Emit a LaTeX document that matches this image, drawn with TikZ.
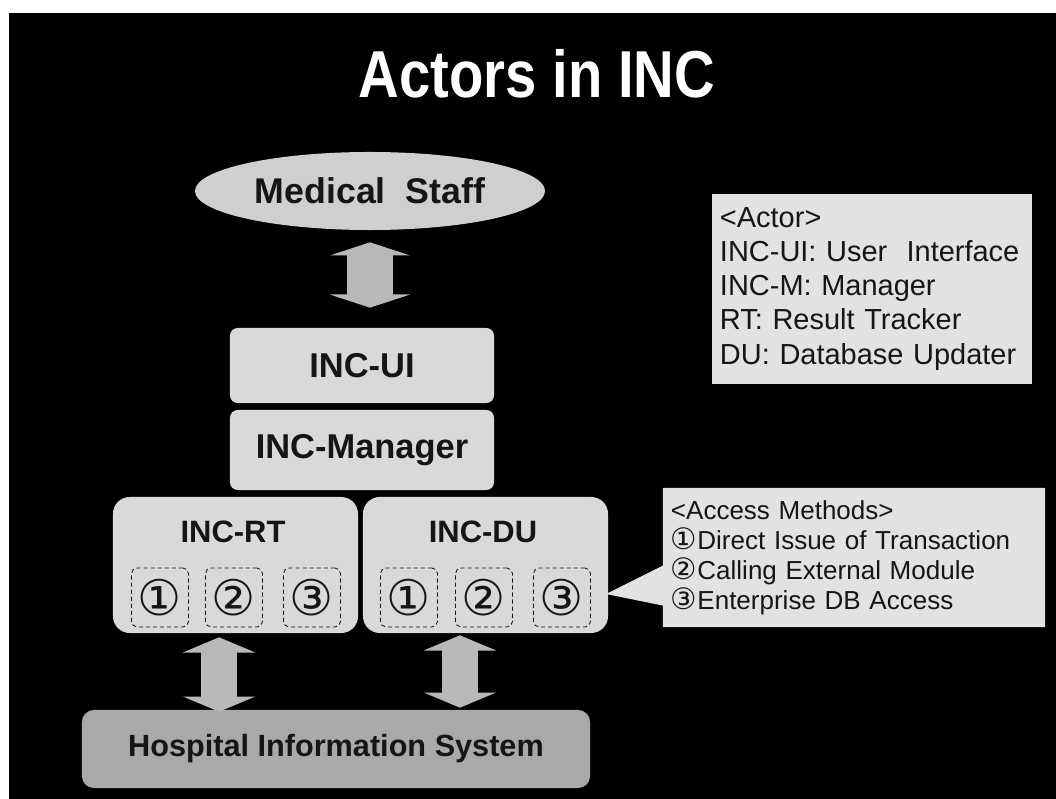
\documentclass[tikz,border=0pt]{standalone}
\usepackage{fontspec}
\usepackage{graphicx}
\setmainfont{Liberation Sans}
\newfontfamily\circfont{DejaVu Sans}
\usetikzlibrary{arrows.meta,positioning,shapes.geometric,shapes.callouts}
\definecolor{slide}{HTML}{000000}
\definecolor{panel}{HTML}{D9D9D9}
\definecolor{oval}{HTML}{CFCFCF}
\definecolor{legend}{HTML}{E2E2E2}
\definecolor{base}{HTML}{A9A9A9}
\definecolor{arrowgray}{HTML}{B8B8B8}
\definecolor{ink}{HTML}{151515}
\newcommand{\circno}[1]{{\circfont\fontsize{21}{21}\selectfont #1}}
\tikzset{
  layer/.style={fill=panel, rounded corners=5.5pt, minimum width=6.6cm, text=ink, font=\fontsize{24.5}{28}\selectfont\bfseries},
  tier/.style={fill=panel, rounded corners=12pt, minimum width=6.125cm, minimum height=3.4cm},
  tiername/.style={text=ink, font=\fontsize{22}{26}\selectfont\bfseries},
  method/.style={draw=ink, semithick, dash pattern=on 3pt off 2pt, rounded corners=4pt, minimum width=1.425cm, minimum height=1.475cm, inner sep=0pt, text=ink, font=\circfont\fontsize{35}{36}\selectfont},
  note/.style={fill=legend, align=left, inner xsep=0.2cm, text=ink},
  twoway/.style={{Triangle[width=2cm,length=0.33cm]}-{Triangle[width=2cm,length=0.33cm]}, arrowgray, line width=1.15cm},
  twowaylow/.style={{Triangle[width=1.8cm,length=0.38cm]}-{Triangle[width=1.8cm,length=0.38cm]}, arrowgray, line width=0.9cm},
}

\begin{document}
\begin{tikzpicture}[x=0.025cm, y=-0.025cm]
    % slide background
    \useasboundingbox (0,0) rectangle (1056,799);
    \fill[white] (0,0) rectangle (1056,799);
    \fill[slide] (9,13) rectangle (1056,799);

    \node[text=white, font=\fontsize{40}{44}\selectfont\bfseries] (title) at (537,74)
      {\scalebox{1}[1.18]{Actors in INC}};

    % actors
    \node[ellipse, fill=oval, minimum width=8.75cm, minimum height=1.95cm, inner sep=0pt, text=ink,
      font=\fontsize{25.4}{30}\selectfont\bfseries] (staff) at (370,191) {Medical~ Staff};
    \node[layer, minimum height=1.875cm] (ui) at (362,365.5) {INC-UI};
    \node[layer, minimum height=2cm] (mgr) at (362,450) {INC-Manager};

    \node[tier] (rt) at (235.5,565) {};
    \node[tier] (du) at (485.5,565) {};
    \node[tiername] (rtname) at (233,532) {INC-RT};
    \node[tiername] (duname) at (483,532) {INC-DU};
    \foreach \n/\x/\g in {1/160/①, 2/234/②, 3/312/③}
      \node[method] (rt\n) at (\x,597.5) {\g};
    \foreach \n/\x/\g in {1/409/①, 2/484/②, 3/562/③}
      \node[method] (du\n) at (\x,597.5) {\g};

    \node[fill=base, rounded corners=8.5pt, minimum width=12.7cm, minimum height=1.95cm, text=ink,
      font=\fontsize{21.8}{26}\selectfont\bfseries] (his) at (336,749) {Hospital Information System};

    % legends
    \node[note, text width=7.6cm, minimum height=4.75cm, font=\fontsize{20.6}{24.2}\selectfont] (actors) at (872,289)
      {<Actor>\\ INC-UI: User~ Interface\\ INC-M: Manager\\ RT: Result Tracker\\ DU: Database Updater};
    \coordinate (acctip) at (606,594);
    \node[note, rectangle callout, callout absolute pointer={(acctip)}, callout pointer width=1cm,
      text width=9.15cm, minimum height=3.475cm, font=\fontsize{18.5}{21.3}\selectfont] (access) at (854,557.5)
      {<Access Methods>\\ \circno{①}Direct Issue of Transaction\\ \circno{②}Calling External Module\\ \circno{③}Enterprise DB Access};

    % exchanges
    \draw[twoway, shorten <=0.3cm, shorten >=0.5cm] (staff.south) -- (staff.south |- ui.north);
    \draw[twowaylow, shorten <=0.1cm, shorten >=-0.05cm] ([xshift=-0.41cm]rt.south) -- ([xshift=-0.41cm]rt.south |- his.north);
    \draw[twowaylow, shorten <=0.05cm, shorten >=0.05cm] ([xshift=-0.64cm]du.south) -- ([xshift=-0.64cm]du.south |- his.north);
  \end{tikzpicture}
\end{document}
